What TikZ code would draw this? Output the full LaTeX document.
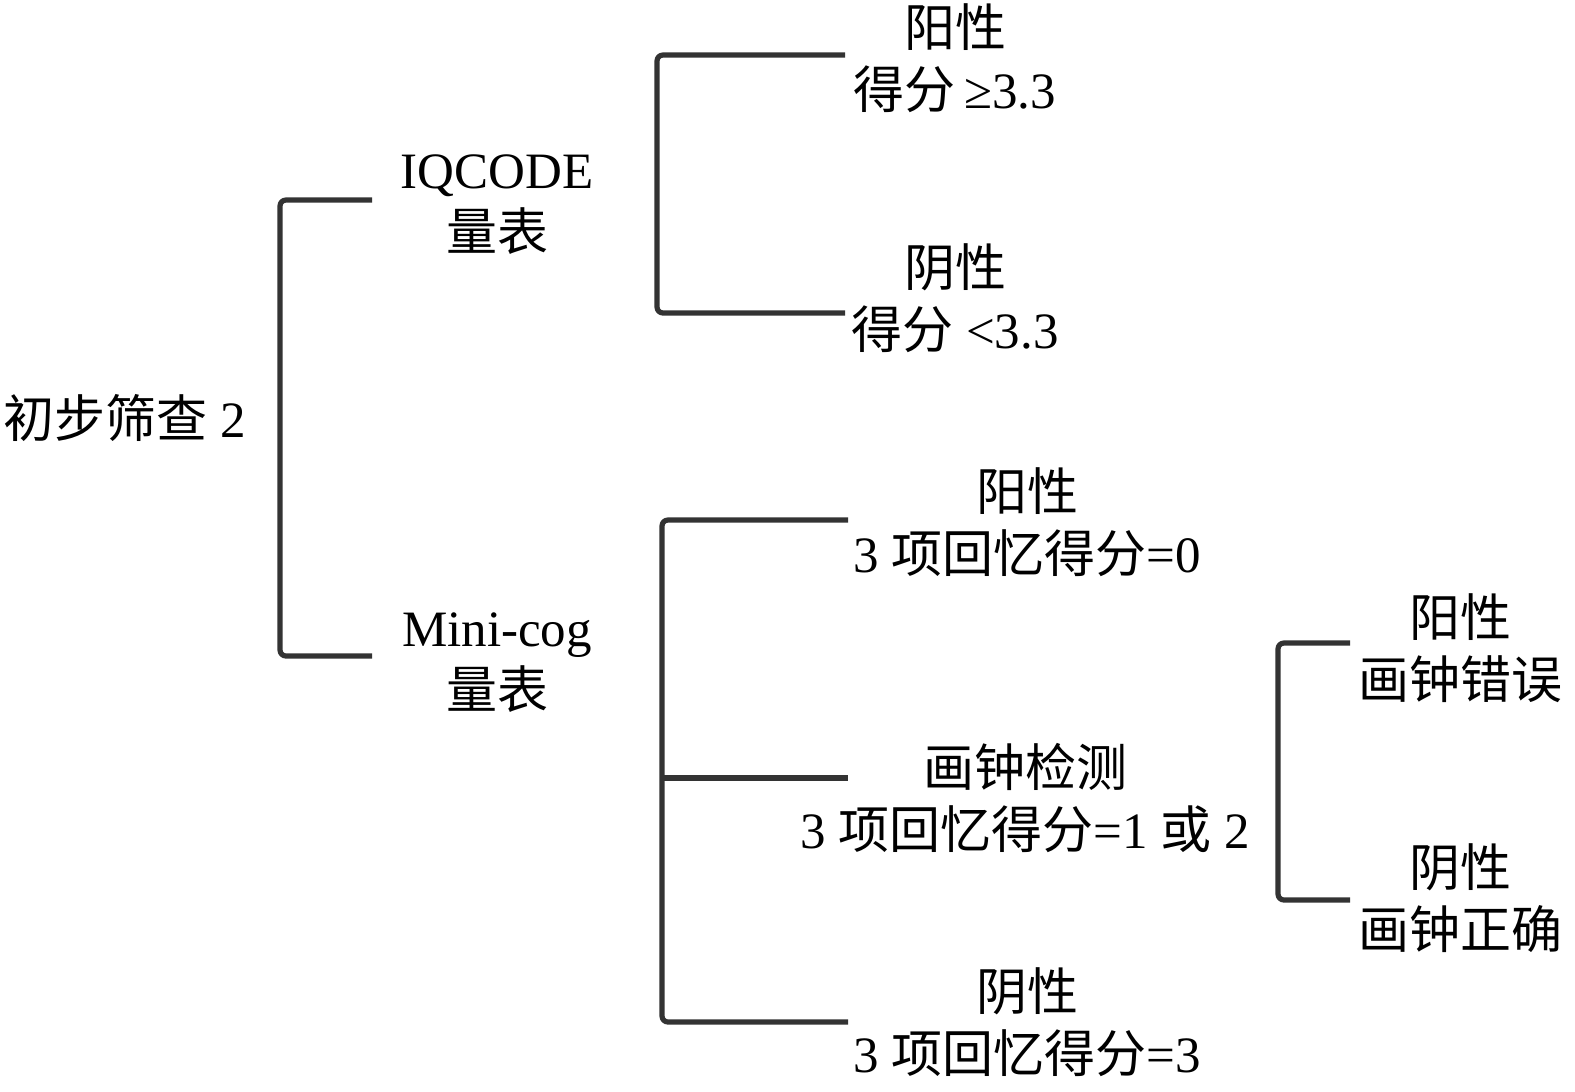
\documentclass[tikz,border=0pt]{standalone}
\usepackage{fontspec}
\setmainfont{Liberation Serif}
\newfontfamily\cjk{Noto Sans CJK SC}
\begin{document}
\begin{tikzpicture}[x=0.5pt,y=-0.5pt,
 lbl/.style={align=center,inner sep=0pt,font=\fontsize{25.5}{31}\selectfont},
 conn/.style={draw=black!80,line width=2.6pt,rounded corners=3pt}]
\useasboundingbox (0,0) rectangle (1575,1092);
% labels
\node[lbl] (root) at (125,418) {{\cjk 初步筛查} 2};
\node[lbl] (iq) at (497,205) {IQCODE\\{\cjk 量表}};
\node[lbl] (mc) at (497,663) {Mini-cog\\{\cjk 量表}};
\node[lbl] (a1) at (955,58) {{\cjk 阳性}\\{\cjk 得分}\,≥3.3};
\node[lbl] (a2) at (955,298) {{\cjk 阴性}\\{\cjk 得分} <3.3};
\node[lbl] (b1) at (1027,522) {{\cjk 阳性}\\3 {\cjk 项回忆得分}=0};
\node[lbl] (b2) at (1025,798) {{\cjk 画钟检测}\\3 {\cjk 项回忆得分}=1 {\cjk 或} 2};
\node[lbl] (b3) at (1027,1022) {{\cjk 阴性}\\3 {\cjk 项回忆得分}=3};
\node[lbl] (c1) at (1460,648) {{\cjk 阳性}\\{\cjk 画钟错误}};
\node[lbl] (c2) at (1460,898) {{\cjk 阴性}\\{\cjk 画钟正确}};
% bracket end points
\coordinate (r1) at (372,200);
\coordinate (r2) at (372,656);
\coordinate (rv) at (280,418);
\coordinate (i1) at (845,55);
\coordinate (i2) at (845,313);
\coordinate (iv) at (657,184);
\coordinate (m1) at (848,520);
\coordinate (m2) at (848,778);
\coordinate (m3) at (848,1022);
\coordinate (mv) at (662,771);
\coordinate (k1) at (1350,643);
\coordinate (k2) at (1350,900);
\coordinate (kv) at (1278,771);
% connectors
\draw[conn] (r1) -| (rv) |- (r2);
\draw[conn] (i1) -| (iv) |- (i2);
\draw[conn] (m1) -| (mv) |- (m3);
\draw[conn] (mv |- m2) -- (m2);
\draw[conn] (k1) -| (kv) |- (k2);
\end{tikzpicture}
\end{document}
